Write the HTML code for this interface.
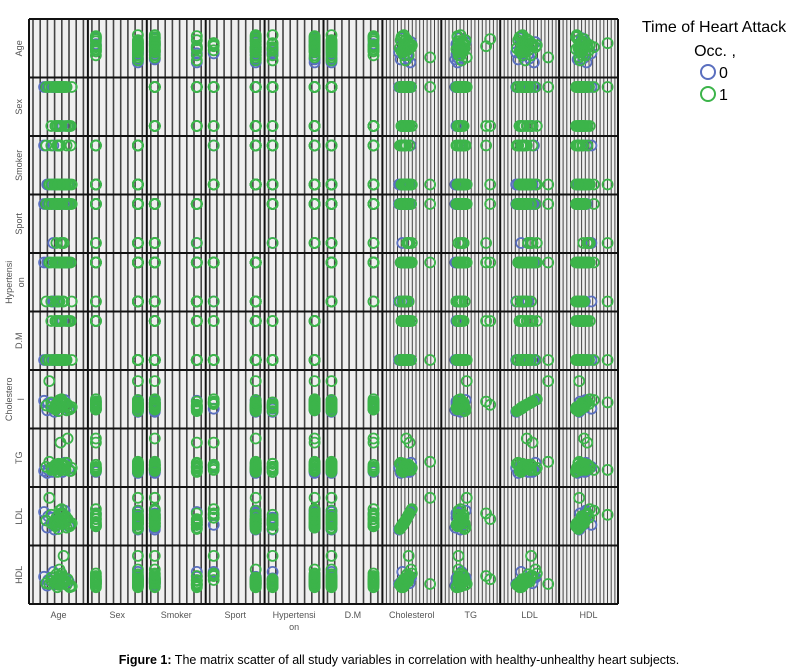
<!DOCTYPE html>
<html><head><meta charset="utf-8"><style>
body{margin:0;background:#fff;font-family:"Liberation Sans",sans-serif;}
svg{display:block}
</style></head><body>
<svg id="chart" width="798" height="671" viewBox="0 0 798 671" xmlns="http://www.w3.org/2000/svg">
<g id="cells"></g><g id="pts"></g><g id="frame"></g>
<g id="labels" font-size="9" fill="#555"></g>
<g font-size="16" fill="#000">
<text x="714" y="32" text-anchor="middle">Time of Heart Attack</text>
<text x="715" y="56" text-anchor="middle">Occ. ,</text>
<circle cx="708" cy="72" r="7" fill="none" stroke="#5a6fbf" stroke-width="2"/>
<text x="719" y="78">0</text>
<circle cx="708" cy="94" r="7" fill="none" stroke="#3cb44a" stroke-width="2"/>
<text x="719" y="100">1</text>
</g>
<text x="399" y="664" text-anchor="middle" font-size="12.5"><tspan font-weight="bold">Figure 1:</tspan> The matrix scatter of all study variables in correlation with healthy-unhealthy heart subjects.</text>
</svg>
<script>
const varNames = ["Age","Sex","Smoker","Sport","Hypertension","D.M","Cholesterol","TG","LDL","HDL"];
const ageVals = [55,60,48,62,58,65,70,52,57,63,59,61,66,54,50,68,72,45,56,64,60,58,53,67,62,57,49,71,63,59,61,55,66,52,58,64,69,47,60,56];
const sexVals = [1,0,1,1,0,1,0,1,1,0,1,1,0,1,1,0,1,1,0,1,1,0,1,1,0,1,1,0,1,1,0,1,1,0,1,1,0,1,1,0];
const smokerVals = [0,1,0,0,1,0,0,1,0,0,1,0,0,1,0,0,0,1,0,0,1,0,0,1,0,0,0,1,0,0,1,0,0,0,1,0,0,1,0,0];
const sportVals = [1,1,1,0,1,1,1,1,0,1,1,1,1,0,1,1,1,1,1,0,1,1,1,1,0,1,1,1,1,1,0,1,1,1,1,0,1,1,1,1];
const htnVals = [1,0,1,1,0,1,1,0,1,1,0,1,1,0,1,1,0,1,1,0,1,1,0,1,1,0,1,1,0,1,1,0,1,1,0,1,1,0,1,1];
const dmVals = [0,1,0,0,1,0,1,0,0,1,0,0,1,0,0,1,0,0,1,0,0,1,0,0,1,0,0,1,0,0,1,0,0,1,0,0,1,0,0,1];
const cholVals = [210,230,195,245,220,260,200,215,235,250,190,225,240,205,380,230,215,255,200,245,220,210,235,195,265,225,240,205,215,230,250,185,220,245,210,235,200,225,260,215];
const tgVals = [150,180,120,200,160,220,140,170,190,130,210,160,150,180,230,460,170,140,200,150,190,160,130,220,170,180,150,140,210,160,420,170,190,150,130,200,160,180,150,170];
const ldlVals = [130,145,115,160,135,175,120,130,150,165,110,140,155,125,220,145,130,170,120,160,135,125,150,115,180,140,155,125,130,145,165,108,135,160,125,150,120,140,175,130];
const hdlVals = [42,45,38,50,40,48,36,44,52,41,39,47,43,55,40,46,37,49,42,75,44,41,47,39,53,43,45,38,46,42,50,40,44,48,36,45,43,41,58,44];
const groupVals = [1,1,0,1,1,0,1,1,1,0,1,1,1,0,1,1,1,0,1,1,1,1,0,1,1,1,0,1,1,1,1,0,1,1,1,1,0,1,1,1];
const tickLabels = ["Age","Sex","Smoker","Sport","Hypertensi\non","D.M","Cholesterol","TG","LDL","HDL"];
const rowLabels = ["Age","Sex","Smoker","Sport","Hypertensi\non","D.M","Cholestero\nl","TG","LDL","HDL"];
const binary = [false,true,true,true,true,true,false,false,false,false];
const cols = [ageVals,sexVals,smokerVals,sportVals,htnVals,dmVals,cholVals,tgVals,ldlVals,hdlVals];
const ranges = [[38,80],[0,1],[0,1],[0,1],[0,1],[0,1],[130,400],[60,480],[80,230],[25,78]];

const NS="http://www.w3.org/2000/svg";
const X0=29,Y0=19,CW=58.9,CH=58.5,N=10;
function mk(t,a,p){const e=document.createElementNS(NS,t);for(const k in a)e.setAttribute(k,a[k]);p.appendChild(e);return e;}
function xScale(j,v){const [a,b]=ranges[j];const t=(v-a)/(b-a);return binary[j]?X0+j*CW+8+t*42:X0+j*CW+8+t*(CW-16);}
function yScale(i,v){const [a,b]=ranges[i];const t=(v-a)/(b-a);return binary[i]?Y0+(i+1)*CH-10-t*39:Y0+(i+1)*CH-8-t*(CH-16);}
const cells=document.getElementById('cells'),pts=document.getElementById('pts'),frame=document.getElementById('frame'),labels=document.getElementById('labels');
for(let i=0;i<N;i++)for(let j=0;j<N;j++){
  const g=mk('g',{},cells);
  
  
  const x=X0+j*CW,y=Y0+i*CH;
  mk('rect',{x:x,y:y,width:CW,height:CH,fill:'#efefef'},g);
  const step=j>=6?3.7:7.2;
  const sw=j>=6?1:1.6;
  for(let gx=x+4;gx<x+CW-1;gx+=step){mk('line',{x1:gx.toFixed(1),y1:y,x2:gx.toFixed(1),y2:y+CH,stroke:'#444',"stroke-width":sw},g);}
  if(i===j)continue;
  for(const pass of [0,1]){
    for(let k=0;k<groupVals.length;k++){
      if(groupVals[k]!==pass)continue;
      const c=mk('circle',{cx:xScale(j,cols[j][k]).toFixed(1),cy:yScale(i,cols[i][k]).toFixed(1),r:5,fill:'none',stroke:pass?'#3cb44a':'#5a6fbf',"stroke-width":1.8},pts);
      
      
    }
  }
}
for(let k=0;k<=N;k++){
  mk('line',{x1:X0+k*CW,y1:Y0,x2:X0+k*CW,y2:Y0+N*CH,stroke:'#111',"stroke-width":2},frame);
  mk('line',{x1:X0,y1:Y0+k*CH,x2:X0+N*CW,y2:Y0+k*CH,stroke:'#111',"stroke-width":2},frame);
}
for(let j=0;j<N;j++){
  const parts=tickLabels[j].split("\n");
  parts.forEach((p,q)=>{const t=mk('text',{x:(X0+(j+0.5)*CW).toFixed(1),y:618+q*12,"text-anchor":"middle"},labels);t.textContent=p;
    });
  const rp=rowLabels[j].split("\n");const cy=Y0+(j+0.5)*CH;
  rp.forEach((p,q)=>{const xx=rp.length>1?12+q*12:22;const t=mk('text',{x:xx,y:cy.toFixed(1),"text-anchor":"middle",transform:`rotate(-90 ${xx} ${cy.toFixed(1)})`},labels);t.textContent=p;
    });
}
</script>
</body></html>
